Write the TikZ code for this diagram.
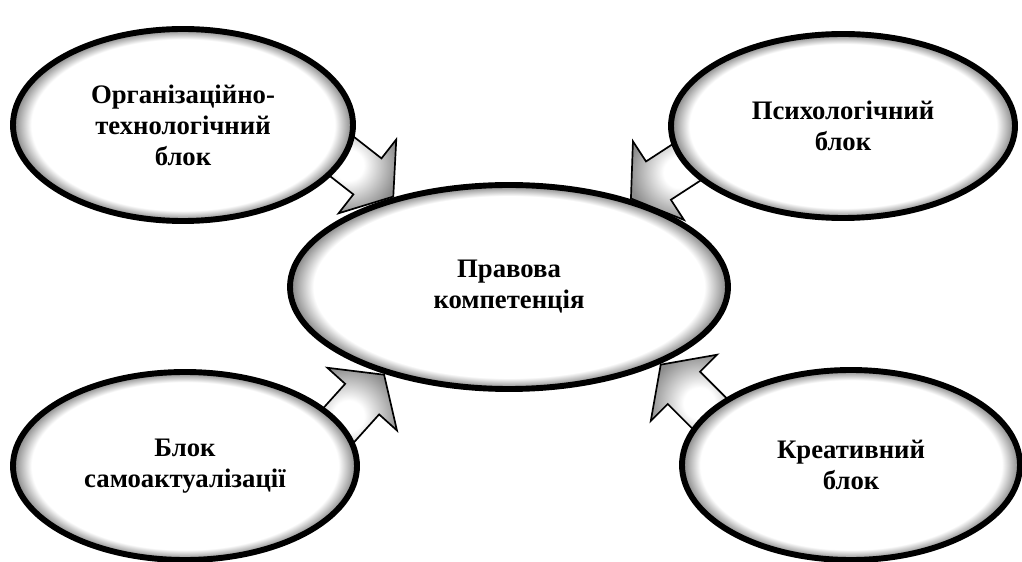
\documentclass[tikz,border=0pt]{standalone}
\usepackage{fontspec}
\setmainfont{Liberation Serif}
\usetikzlibrary{shapes.geometric,shapes.arrows,backgrounds}
\pgfdeclareradialshading{glow}{\pgfpoint{0bp}{0bp}}{color(0bp)=(white); color(22.3bp)=(white); color(25bp)=(black!50); color(50bp)=(black!50)}
\pgfdeclareradialshading{dimglow}{\pgfpoint{0bp}{0bp}}{color(0bp)=(white); color(8bp)=(white); color(26bp)=(black!45); color(50bp)=(black!45)}

\begin{document}
\begin{tikzpicture}[
  block/.style={ellipse, draw, line width=4.2pt, shade, shading=glow, align=center,
    font=\fontsize{19}{22}\selectfont\bfseries, inner sep=0pt},
  push/.style={single arrow, draw, line width=1.2pt, shade, shading=dimglow,
    minimum height=2.5cm, inner xsep=0pt, inner ysep=0.55cm,
    single arrow head extend=0.6cm, single arrow tip angle=110, anchor=tip}]
  \useasboundingbox (0,0) rectangle (25.55,14.025);
  % blocks
  \node[block, minimum width=8.5cm, minimum height=4.8cm] (org) at (4.575,10.9) {Організаційно-\\технологічний\\блок};
  \node[block, minimum width=8.6cm, minimum height=4.6cm] (psy) at (21.075,10.875) {Психологічний\\блок};
  \node[block, minimum width=10.95cm, minimum height=5.1cm] (law) at (12.725,6.85) {Правова\\компетенція};
  \node[block, minimum width=8.6cm, minimum height=4.7cm] (self) at (4.625,2.375) {Блок\\самоактуалізації};
  \node[block, minimum width=8.45cm, minimum height=4.75cm] (cre) at (21.275,2.4) {Креативний\\блок};
  % arrows into the centre
  \begin{pgfonlayer}{background}
    \foreach \ang/\rot/\nm in {142/-38/orgin, 36.9/213/psyin, 215/48/selfin, 333/135/crein}
      \node[push, rotate=\rot] (\nm) at (law.\ang) {};
  \end{pgfonlayer}
\end{tikzpicture}
\end{document}
